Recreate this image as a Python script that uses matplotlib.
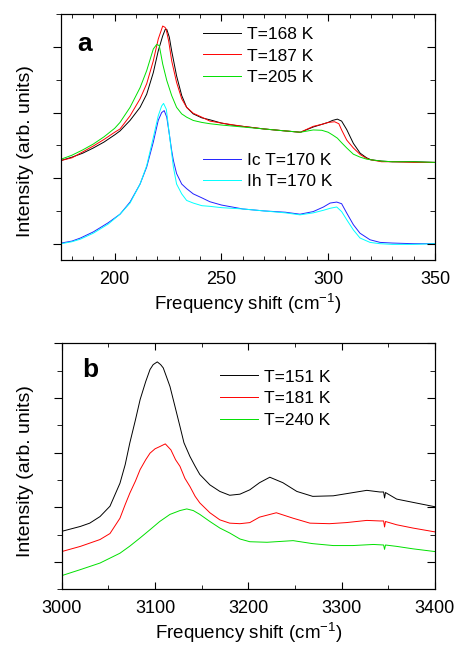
import matplotlib
matplotlib.use("Agg")
import matplotlib.pyplot as plt
from matplotlib.ticker import MultipleLocator, NullFormatter

plt.rcParams['font.family'] = ['Liberation Sans', 'DejaVu Sans']
plt.rcParams['mathtext.default'] = 'regular'

# ---- panel a : low frequency region ----
a_x_168 = [175, 180, 185, 190, 195, 200, 202.5, 207.2, 211.9, 215, 218.1, 220.4, 222.5, 223.7, 224.4, 225.6,
           226.7, 229, 231.4, 233.7, 236.8, 240.8, 244.6, 250, 255, 260, 270, 280, 287, 293, 297, 300, 302,
           304.3, 306.3, 308.7, 311.8, 315, 318, 320, 325, 330, 340, 350]
a_y_168 = [1.27, 1.32, 1.38, 1.46, 1.55, 1.66, 1.72, 1.88, 2.08, 2.28, 2.61, 2.94, 3.17, 3.27, 3.27, 3.15,
           2.94, 2.56, 2.26, 2.08, 1.98, 1.92, 1.89, 1.84, 1.81, 1.79, 1.75, 1.72, 1.70, 1.78, 1.82, 1.85, 1.88,
           1.90, 1.87, 1.74, 1.53, 1.38, 1.31, 1.28, 1.26, 1.25, 1.25, 1.24]

a_x_187 = [175, 180, 185, 190, 195, 200, 202.5, 207.2, 211.9, 215, 218.1, 220.4, 222.5, 223.6, 224.1, 225.3,
           226.7, 229, 231.4, 233.7, 236.8, 240.8, 244.6, 250, 260, 270, 280, 287, 293, 297, 300, 303, 305,
           306.3, 308.7, 311.8, 315, 318, 320, 325, 330, 340, 350]
a_y_187 = [1.27, 1.31, 1.40, 1.49, 1.59, 1.70, 1.75, 1.95, 2.21, 2.44, 2.79, 3.12, 3.32, 3.30, 3.27, 3.09,
           2.79, 2.46, 2.21, 2.08, 1.99, 1.93, 1.87, 1.84, 1.79, 1.75, 1.72, 1.70, 1.79, 1.82, 1.85, 1.86, 1.83,
           1.735, 1.58, 1.46, 1.36, 1.30, 1.28, 1.25, 1.25, 1.24, 1.24]

a_x_205 = [175, 180, 185, 190, 195, 200, 202.5, 207.2, 211.9, 215, 218.1, 219.7, 220.9, 222.5, 224.4, 226.7,
           229, 231.4, 233.7, 236.8, 240.8, 244.6, 250, 260, 270, 280, 287, 293, 297, 300, 302, 304.3, 306.3,
           308.7, 311.8, 315, 318, 320, 325, 330, 340, 350]
a_y_205 = [1.29, 1.35, 1.43, 1.52, 1.63, 1.76, 1.85, 2.08, 2.38, 2.64, 2.97, 3.04, 3.02, 2.74, 2.49, 2.26,
           2.08, 1.98, 1.93, 1.88, 1.85, 1.83, 1.81, 1.78, 1.75, 1.72, 1.70, 1.735, 1.73, 1.70, 1.66, 1.61, 1.54,
           1.46, 1.365, 1.32, 1.29, 1.28, 1.26, 1.25, 1.25, 1.24]

a_x_ic = [175, 180, 184, 190, 193, 197, 202.5, 207.2, 211.9, 215, 218.1, 220.4, 222, 223.2, 224.4, 225.6,
          226.7, 227.5, 229, 231.4, 233.7, 236.8, 240.8, 244.6, 250, 260, 270, 280, 286.8, 293, 297.8, 300.9,
          304, 306.3, 308.7, 311.8, 314.9, 319.6, 324.3, 330, 340, 350]
a_y_ic = [0.01, 0.04, 0.087, 0.18, 0.24, 0.32, 0.45, 0.635, 0.91, 1.17, 1.55, 1.88, 2.00, 2.03, 1.93, 1.67,
          1.42, 1.27, 1.07, 0.91, 0.84, 0.76, 0.70, 0.64, 0.59, 0.53, 0.50, 0.48, 0.45, 0.49, 0.56, 0.62,
          0.635, 0.61, 0.467, 0.29, 0.16, 0.06, 0.02, 0.01, 0.0, 0.0]

a_x_ih = [175, 180, 184, 190, 193, 197, 202.5, 207.2, 211.9, 215, 218.1, 220.4, 222, 222.9, 224.2, 225.6,
          227.5, 229, 231.4, 233.7, 236.8, 240.8, 244.6, 250, 260, 270, 280, 286.8, 293, 297.8, 300.9, 304,
          306.3, 308.7, 311.8, 314.9, 319.6, 324.3, 330, 340, 350]
a_y_ih = [0.0, 0.03, 0.07, 0.16, 0.22, 0.30, 0.45, 0.62, 0.91, 1.19, 1.62, 1.95, 2.10, 2.14, 2.05, 1.67,
          1.17, 0.91, 0.76, 0.66, 0.62, 0.58, 0.57, 0.55, 0.53, 0.50, 0.47, 0.44, 0.47, 0.51, 0.54, 0.56,
          0.49, 0.365, 0.21, 0.087, 0.02, 0.0, -0.01, -0.01, 0.0]

# ---- panel b : OH stretching region ----
b_x_151 = [3000, 3020, 3030, 3041, 3051.7, 3062.4, 3068, 3073, 3079, 3084, 3090, 3094.6, 3098, 3102.4, 3106,
           3108.8, 3112, 3116, 3121, 3126.7, 3131, 3137.4, 3143, 3148, 3158.8, 3169.5, 3180, 3191, 3201.6,
           3212, 3223, 3237, 3252, 3269, 3291, 3309, 3327, 3341, 3345, 3346, 3347, 3359, 3376.5, 3400]
b_y_151 = [0.56, 0.65, 0.71, 0.83, 1.02, 1.44, 1.78, 2.18, 2.60, 2.97, 3.30, 3.52, 3.61, 3.66, 3.61,
           3.55, 3.40, 3.21, 2.87, 2.48, 2.18, 1.93, 1.75, 1.60, 1.41, 1.29, 1.22, 1.24, 1.32,
           1.45, 1.55, 1.45, 1.29, 1.20, 1.21, 1.26, 1.31, 1.28, 1.28, 1.17, 1.27, 1.15, 1.09, 1.01]

b_x_181 = [3000, 3020, 3041, 3051.7, 3062.4, 3068, 3073, 3079, 3084, 3090, 3094.6, 3100, 3105, 3111, 3117,
           3122, 3126.7, 3132, 3137.4, 3143, 3148, 3158.8, 3169.5, 3180, 3191, 3201.6, 3212, 3230, 3248, 3266,
           3287, 3305, 3327, 3341, 3345, 3346, 3347, 3359, 3376.5, 3400]
b_y_181 = [0.19, 0.285, 0.41, 0.52, 0.80, 1.05, 1.26, 1.48, 1.69, 1.87, 1.99, 2.07, 2.11, 2.16, 2.05,
           1.87, 1.75, 1.53, 1.38, 1.20, 1.08, 0.90, 0.77, 0.71, 0.70, 0.72, 0.82, 0.90, 0.80, 0.71,
           0.70, 0.72, 0.76, 0.75, 0.75, 0.64, 0.74, 0.68, 0.62, 0.55]

b_x_240 = [3000, 3020, 3041, 3051.7, 3062.4, 3073, 3084, 3094.6, 3105, 3116, 3126.7, 3134, 3141, 3148,
           3158.8, 3169.5, 3180, 3191, 3201.6, 3220, 3248, 3269, 3291, 3312, 3334, 3345, 3346, 3347, 3359,
           3376.5, 3400]
b_y_240 = [-0.25, -0.14, -0.02, 0.07, 0.16, 0.29, 0.44, 0.59, 0.74, 0.87, 0.94, 0.97, 0.94, 0.87,
           0.74, 0.62, 0.53, 0.42, 0.37, 0.36, 0.39, 0.335, 0.30, 0.30, 0.32, 0.31, 0.23, 0.31, 0.285,
           0.24, 0.19]

lw = 0.7
leg_kw = dict(frameon=False, fontsize=12.5, handlelength=2.2, handletextpad=0.35,
              labelspacing=0.37, borderpad=0, borderaxespad=0, loc='upper left')


def style_axes(ax, xmin, xmax, xmaj, xmin_step, ymin, ymax):
    ax.set_xlim(xmin, xmax)
    ax.set_ylim(ymin, ymax)
    ax.xaxis.set_major_locator(MultipleLocator(xmaj))
    ax.xaxis.set_minor_locator(MultipleLocator(xmin_step))
    ax.yaxis.set_major_locator(MultipleLocator(1))
    ax.yaxis.set_minor_locator(MultipleLocator(0.5))
    ax.yaxis.set_major_formatter(NullFormatter())
    ax.tick_params(axis='x', which='both', direction='in', top=True, labelsize=13, pad=8)
    ax.tick_params(axis='x', which='major', length=5)
    ax.tick_params(axis='x', which='minor', length=3)
    ax.tick_params(axis='y', which='major', direction='out', length=6)
    ax.tick_params(axis='y', which='minor', direction='out', length=3.5)
    # right side ticks point inwards
    ax2 = ax.twinx()
    ax2.set_ylim(ymin, ymax)
    ax2.yaxis.set_major_locator(MultipleLocator(1))
    ax2.yaxis.set_minor_locator(MultipleLocator(0.5))
    ax2.yaxis.set_major_formatter(NullFormatter())
    ax2.tick_params(axis='y', which='major', direction='in', length=6)
    ax2.tick_params(axis='y', which='minor', direction='in', length=3.5)
    ax.set_xlabel('Frequency shift (cm$^{-1}$)', fontsize=13.5, labelpad=2.5)
    ax.set_ylabel('Intensity (arb. units)', fontsize=14)


fig = plt.figure(figsize=(4.54, 6.47), dpi=100)
axa = fig.add_axes([0.135, 0.598, 0.823, 0.380])
axb = fig.add_axes([0.136, 0.0892, 0.822, 0.3802])

# panel a
l1, = axa.plot(a_x_168, a_y_168, color='black', lw=lw, label='T=168 K')
l2, = axa.plot(a_x_187, a_y_187, color='red', lw=lw, label='T=187 K')
l3, = axa.plot(a_x_205, a_y_205, color='#00e000', lw=lw, label='T=205 K')
l4, = axa.plot(a_x_ic, a_y_ic, color='#2222ff', lw=lw, label='Ic T=170 K')
l5, = axa.plot(a_x_ih, a_y_ih, color='cyan', lw=lw, label='Ih T=170 K')
style_axes(axa, 175, 350, 50, 10, -0.25, 3.5)
axa.yaxis.set_label_coords(-0.074, 0.445)
leg1 = axa.legend(handles=[l1, l2, l3], bbox_to_anchor=(0.379, 0.949), **leg_kw)
axa.add_artist(leg1)
axa.legend(handles=[l4, l5], bbox_to_anchor=(0.379, 0.437), **leg_kw)
axa.text(0.042, 0.88, 'a', transform=axa.transAxes, fontsize=19, fontweight='bold', va='center')

# panel b
m1, = axb.plot(b_x_151, b_y_151, color='black', lw=lw, label='T=151 K')
m2, = axb.plot(b_x_181, b_y_181, color='red', lw=lw, label='T=181 K')
m3, = axb.plot(b_x_240, b_y_240, color='#00e000', lw=lw, label='T=240 K')
style_axes(axb, 3000, 3400, 100, 50, -0.5, 4.0)
axb.yaxis.set_label_coords(-0.074, 0.479)
axb.legend(handles=[m1, m2, m3], bbox_to_anchor=(0.424, 0.894), **leg_kw)
axb.text(0.055, 0.89, 'b', transform=axb.transAxes, fontsize=19, fontweight='bold', va='center')

fig.savefig('out.png', dpi=100)
